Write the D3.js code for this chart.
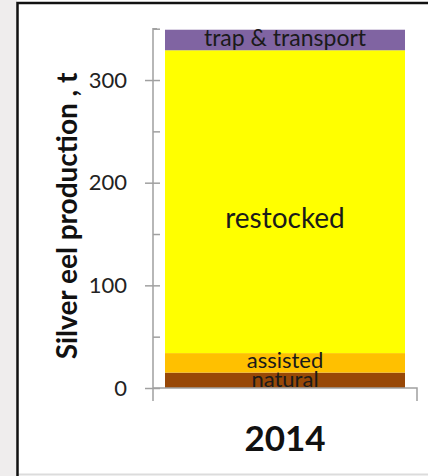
<!DOCTYPE html>
<html>
<head>
<meta charset="utf-8">
<script src="https://cdn.jsdelivr.net/npm/d3@7"></script>
<style>
  body { margin: 0; background: #fff; }
  svg { display: block; font-family: Lato, "Open Sans", sans-serif; }
</style>
</head>
<body>
<div id="chart"></div>
<script>
// Chart data
const years = ["2014"];
const segments = ["natural", "assisted", "restocked", "trap & transport"];
const values = [15, 19, 295, 20];
const segColors = ["#984807", "#FFC000", "#FFFF00", "#8064A2"];
const yTicks = [0, 100, 200, 300];
const yMinorTicks = [0, 50, 100, 150, 200, 250, 300, 350];

const width = 428, height = 476;

const svg = d3.select("#chart")
              .append("svg")
              .attr("width", width)
              .attr("height", height);

// Photo-ish background strip on the left, then the white slide frame
svg.append("rect").attr("x", 0).attr("y", 0).attr("width", 17).attr("height", height).attr("fill", "#efeded");
svg.append("line").attr("x1", 18).attr("x2", width).attr("y1", 474.5).attr("y2", 474.5)
   .attr("stroke", "#dcdcdc").attr("stroke-width", 2);
svg.append("path")
   .attr("d", "M17.5," + height + "V3H" + width)
   .attr("fill", "none").attr("stroke", "#111").attr("stroke-width", 2.5);

// Scales
const y = d3.scaleLinear().domain([0, 350]).range([388, 28.7]);
const x = d3.scaleBand().domain(years).range([153, 417]).paddingOuter(0.05).paddingInner(0);

// Stack the segments
let acc = 0;
const stacked = values.map(function (v, i) {
    const d = {name: segments[i], y0: acc, y1: acc + v, color: segColors[i]};
    acc += v;
    return d;
});

svg.append("g")
   .selectAll("rect")
   .data(stacked)
   .enter()
   .append("rect")
   .attr("x", x(years[0]))
   .attr("width", x.bandwidth())
   .attr("y", d => y(d.y1))
   .attr("height", d => y(d.y0) - y(d.y1))
   .attr("fill", d => d.color);

// Segment labels
const labelShift = {"restocked": 19, "assisted": -1, "natural": 1};
svg.append("g")
   .selectAll("text")
   .data(stacked)
   .enter()
   .append("text")
   .attr("x", x(years[0]) + x.bandwidth() / 2)
   .attr("y", d => (y(d.y0) + y(d.y1)) / 2 + (labelShift[d.name] || 0))
   .attr("dy", "0.26em")
   .attr("text-anchor", "middle")
   .attr("fill", "#1a1a1a")
   .style("font-size", d => d.name === "restocked" ? "28px" : (d.name === "trap & transport" ? "23px" : "22px"))
   .text(d => d.name);

// Y axis: major ticks crossing the line, minor ticks inside
const axisColor = "#a0a0a0";
const yAxis = svg.append("g")
   .attr("transform", "translate(153,0)")
   .call(d3.axisLeft(y).tickValues(yTicks).tickSize(8).tickPadding(18));
yAxis.select(".domain").remove();
yAxis.selectAll("line").attr("stroke", axisColor).attr("stroke-width", 1.5);
yAxis.selectAll("text").attr("fill", "#222").style("font-size", "22px").style("font-family", "Lato, sans-serif");

const yMinor = svg.append("g")
   .attr("transform", "translate(153,0)")
   .call(d3.axisLeft(y).tickValues(yMinorTicks).tickSize(-7).tickFormat(""));
yMinor.select(".domain").remove();
yMinor.selectAll("line").attr("stroke", axisColor).attr("stroke-width", 1.5);

const xr = x.range();
svg.append("path")
   .attr("d", "M" + (xr[0] + 4) + "," + y(350) + "H" + xr[0] + "V401")
   .attr("fill", "none").attr("stroke", axisColor).attr("stroke-width", 1.5);

// X axis line with category boundary tick
svg.append("path")
   .attr("d", "M" + xr[0] + "," + y(0) + "H" + xr[1] + "V401")
   .attr("fill", "none").attr("stroke", axisColor).attr("stroke-width", 1.5);

svg.append("text")
   .attr("x", x(years[0]) + x.bandwidth() / 2)
   .attr("y", 451)
   .attr("text-anchor", "middle")
   .attr("fill", "#111")
   .style("font-size", "35px")
   .style("font-weight", "bold")
   .text(years[0]);

// Y axis title
svg.append("text")
   .attr("transform", "translate(77,216) rotate(-90)")
   .attr("text-anchor", "middle")
   .attr("fill", "#111")
   .style("font-size", "28px")
   .style("font-weight", "bold")
   .text("Silver eel production , t");
</script>
</body>
</html>
